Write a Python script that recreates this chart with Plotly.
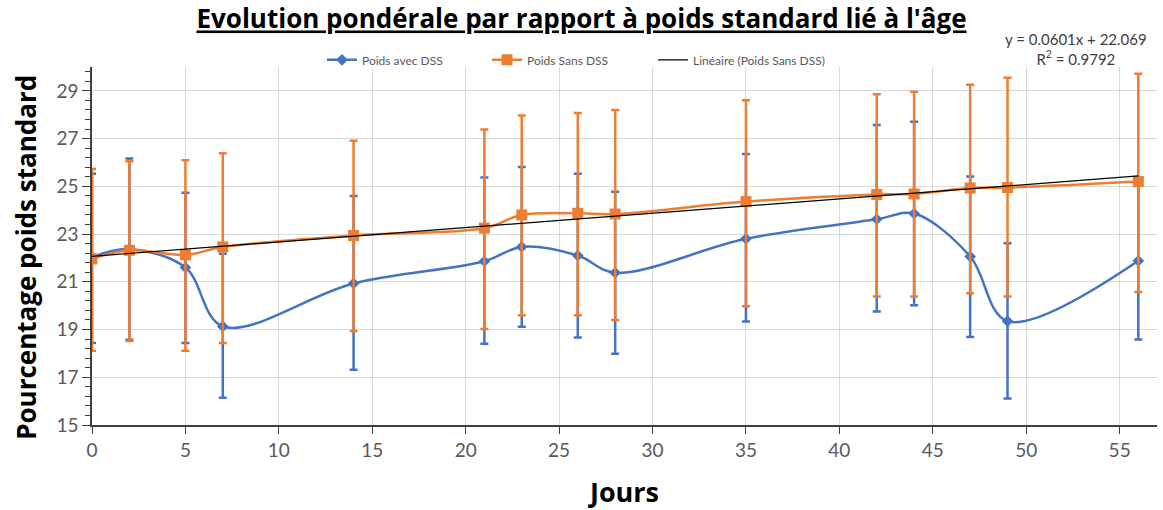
import plotly.graph_objects as go

# Days of measurement
jours = [0, 2, 5, 7, 14, 21, 23, 26, 28, 35, 42, 44, 47, 49, 56]

# Weight as a percentage of the age-standard weight, with DSS
avec_dss = [22.04, 22.37, 21.60, 19.13, 20.93, 21.86, 22.46, 22.10, 21.38, 22.80, 23.62, 23.86, 22.06, 19.35, 21.88]
avec_dss_haut = [25.53, 26.17, 24.73, 22.18, 24.60, 25.37, 25.81, 25.53, 24.77, 26.35, 27.57, 27.71, 25.41, 22.62, 25.18]
avec_dss_bas = [18.44, 18.57, 18.44, 16.14, 17.32, 18.40, 19.12, 18.67, 17.99, 19.34, 19.76, 20.02, 18.69, 16.11, 18.58]

# Weight without DSS
sans_dss = [21.96, 22.32, 22.13, 22.46, 22.94, 23.25, 23.80, 23.87, 23.84, 24.36, 24.66, 24.68, 24.93, 24.95, 25.20]
sans_dss_haut = [25.73, 26.05, 26.09, 26.39, 26.91, 27.38, 27.97, 28.07, 28.20, 28.61, 28.86, 28.96, 29.26, 29.55, 29.72]
sans_dss_bas = [18.11, 18.52, 18.11, 18.44, 18.94, 19.02, 19.60, 19.60, 19.40, 19.98, 20.38, 20.38, 20.52, 20.38, 20.57]

# Linear trend of the "Sans DSS" series
pente = 0.0601
ordonnee = 22.069
r2 = 0.9792

x_ticks = [0, 5, 10, 15, 20, 25, 30, 35, 40, 45, 50, 55]
y_ticks = [15, 17, 19, 21, 23, 25, 27, 29]

BLUE = "#4472C4"
ORANGE = "#ED7D31"
GREY_TXT = "#595959"
FONT = "Lato, 'Open Sans', sans-serif"
TITLE_FONT = "'Open Sans', Lato, sans-serif"


def err(vals, hauts, bas):
    return dict(
        type="data", symmetric=False,
        array=[h - v for h, v in zip(hauts, vals)],
        arrayminus=[v - b for v, b in zip(vals, bas)],
        thickness=2.5, width=4,
    )


fig = go.Figure()

fig.add_trace(go.Scatter(
    x=jours, y=avec_dss, name="Poids avec DSS", mode="lines+markers",
    line=dict(color=BLUE, width=2.5, shape="spline", smoothing=1.0),
    marker=dict(symbol="diamond", size=9, color=BLUE),
    error_y=dict(color=BLUE, **err(avec_dss, avec_dss_haut, avec_dss_bas)),
    legend="legend",
))

fig.add_trace(go.Scatter(
    x=jours, y=sans_dss, name="Poids Sans DSS", mode="lines+markers",
    line=dict(color=ORANGE, width=2.5, shape="spline", smoothing=1.0),
    marker=dict(symbol="square", size=11, color=ORANGE),
    error_y=dict(color=ORANGE, **err(sans_dss, sans_dss_haut, sans_dss_bas)),
    legend="legend2",
))

x_tend = [jours[0], jours[-1]]
fig.add_trace(go.Scatter(
    x=x_tend, y=[pente * x + ordonnee for x in x_tend],
    name="Linéaire (Poids Sans DSS)", mode="lines",
    line=dict(color="black", width=1.2),
    legend="legend3",
))

# Trendline equation
fig.add_annotation(
    xref="paper", yref="paper", x=1.0, y=1.0, xanchor="center", yanchor="bottom",
    xshift=-81, yshift=-3,
    text=f"y = {pente}x + {ordonnee}<br>R<sup>2</sup> = {r2}",
    showarrow=False, align="center",
    font=dict(family=FONT, size=15, color="#404040"),
)

# Vertical axis title
fig.add_annotation(
    xref="paper", yref="paper", x=0, y=0.467, xanchor="center", yanchor="middle",
    xshift=-66, textangle=-90,
    text="<b>Pourcentage poids standard</b>", showarrow=False,
    font=dict(family=TITLE_FONT, size=26, color="black"),
)

PLOT_L, PLOT_W = 92, 1065


def legend_at(px):
    return dict(
        orientation="h", x=(px - PLOT_L) / PLOT_W, xanchor="left", y=1.02, yanchor="middle",
        font=dict(size=12, color=GREY_TXT), bgcolor="rgba(0,0,0,0)",
    )


fig.update_layout(
    width=1163, height=510,
    margin=dict(l=92, r=6, t=67, b=83),
    paper_bgcolor="white", plot_bgcolor="white",
    font=dict(family=FONT, color=GREY_TXT),
    title=dict(
        text="<b><u>Evolution pondérale par rapport à poids standard lié à l'âge</u></b>",
        x=0.5, xanchor="center", y=0.962, yanchor="middle",
        font=dict(family=TITLE_FONT, size=26, color="black"),
    ),
    legend=legend_at(322),
    legend2=legend_at(487),
    legend3=legend_at(653),
    showlegend=True,
)

fig.update_xaxes(
    range=[0, 57], tickvals=x_ticks, showgrid=True, gridcolor="#D9D9D9", gridwidth=1,
    showline=True, linecolor="#404040", linewidth=1.5, zeroline=False,
    ticks="outside", ticklen=7, tickcolor="#404040",
    tickfont=dict(size=19, color=GREY_TXT),
    title=dict(text="<b>Jours</b>", font=dict(family=TITLE_FONT, size=27, color="black"), standoff=25),
)

fig.update_yaxes(
    range=[15, 30], tickvals=y_ticks, showgrid=True, gridcolor="#D9D9D9", gridwidth=1,
    showline=True, linecolor="#404040", linewidth=1.5, zeroline=False,
    ticks="outside", ticklen=8, tickcolor="#404040",
    minor=dict(dtick=0.4, tick0=15, ticks="outside", ticklen=5, tickcolor="#404040", showgrid=False),
    tickfont=dict(size=19, color=GREY_TXT),
)

fig.write_html("out.html")
